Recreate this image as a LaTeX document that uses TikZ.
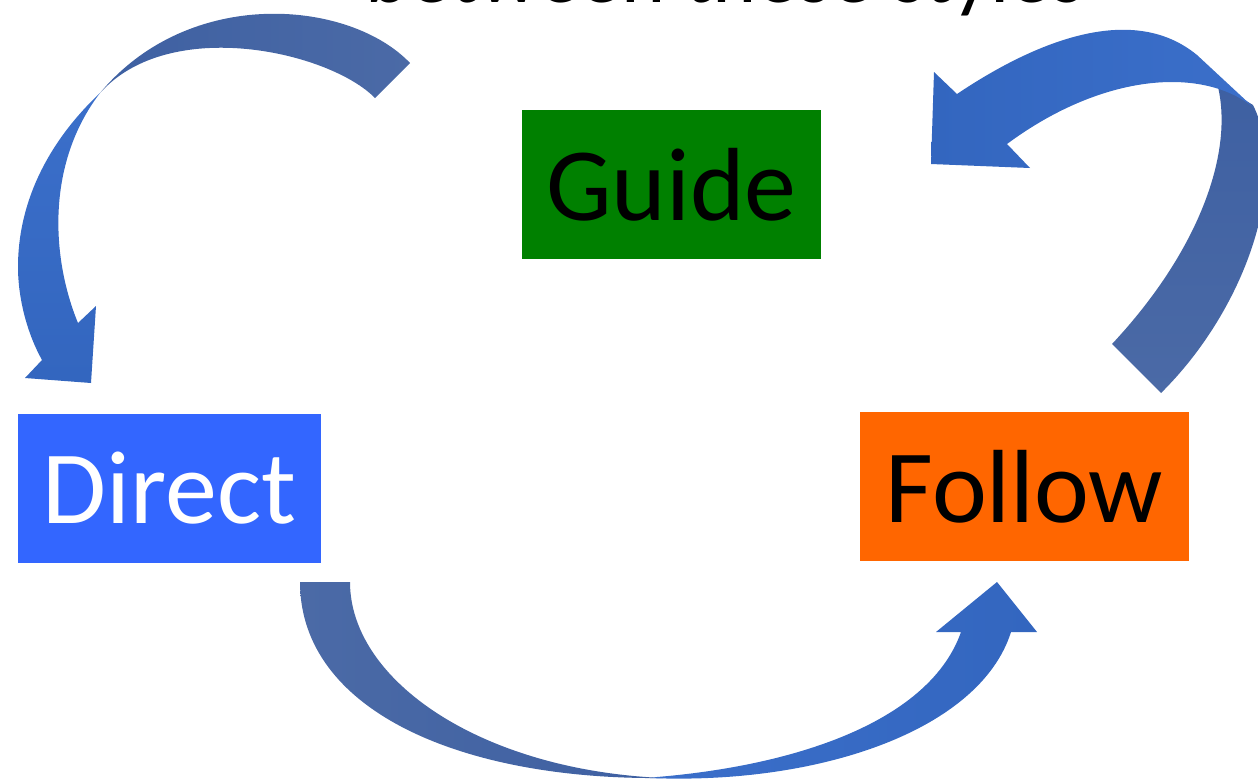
\documentclass[tikz,border=0pt]{standalone}
\usepackage{fontspec}
\setmainfont{Carlito}
\usetikzlibrary{positioning}

\definecolor{guidegreen}{HTML}{008000}
\definecolor{directblue}{HTML}{3366FF}
\definecolor{followorange}{HTML}{FF6600}
\definecolor{bandslate}{HTML}{4B6AA6}
\definecolor{banddeep}{HTML}{3E60A2}
\definecolor{bandlight}{HTML}{3B6FCA}
\definecolor{bandbright}{HTML}{3366BF}

\begin{document}
\begin{tikzpicture}[line cap=round,line join=round,x=0.5pt,y=-0.5pt,
  stylebox/.style={inner sep=0pt,minimum height=74.5pt,font=\fontsize{52}{60}\selectfont}]
\useasboundingbox (0,0) rectangle (1258,778);
\clip (0,0) rectangle (1258,778);

% heading, cut off at the top
\node[anchor=base west,font=\fontsize{42}{50}\selectfont] (heading) at (358,2) {between these styles};

% the three styles
\node[stylebox,fill=guidegreen,minimum width=149.5pt] (guide) at (671.5,184.5) {Guide};
\node[stylebox,fill=directblue,text=white,minimum width=151.5pt] (direct) at (169.5,488.5) {Direct};
\node[stylebox,fill=followorange,minimum width=164.5pt] (follow) at (1024.5,486.5) {Follow};

% guide -> direct
\shade[left color=banddeep,right color=bandslate]
  (410,63) .. controls (350,0) and (190,-15) .. (100,93)
  .. controls (170,15) and (330,52) .. (375,98) -- cycle;
\shade[top color=bandlight,bottom color=bandbright]
  (100,93) .. controls (50,140) and (18,200) .. (18,267)
  .. controls (18,300) and (28,335) .. (42,360)
  -- (25,378) -- (91,383) -- (96,306) -- (78,323)
  .. controls (52,260) and (45,165) .. (100,93) -- cycle;

% follow -> guide
\shade[top color=banddeep,bottom color=bandslate]
  (1217,83) .. controls (1235,150) and (1200,250) .. (1112,344)
  -- (1161,393) .. controls (1245,310) and (1290,180) .. (1253,105) -- cycle;
\shade[left color=bandbright,right color=bandlight]
  (1253,107) .. controls (1200,65) and (1100,75) .. (1007,144)
  -- (1030,168) -- (931,164) -- (934,72) -- (957,94)
  .. controls (1030,45) and (1130,0) .. (1197,55) -- cycle;

% direct -> follow
\shade[left color=bandslate,right color=banddeep]
  (300,582) .. controls (300,710) and (460,780) .. (663,778)
  .. controls (480,770) and (350,680) .. (350,582) -- cycle;
\shade[left color=bandlight,right color=bandbright]
  (650,778) .. controls (820,785) and (980,730) .. (1011,632)
  -- (1037,632) -- (997,582) -- (936,632) -- (961,632)
  .. controls (930,720) and (800,765) .. (657,777) -- cycle;

\end{tikzpicture}
\end{document}
